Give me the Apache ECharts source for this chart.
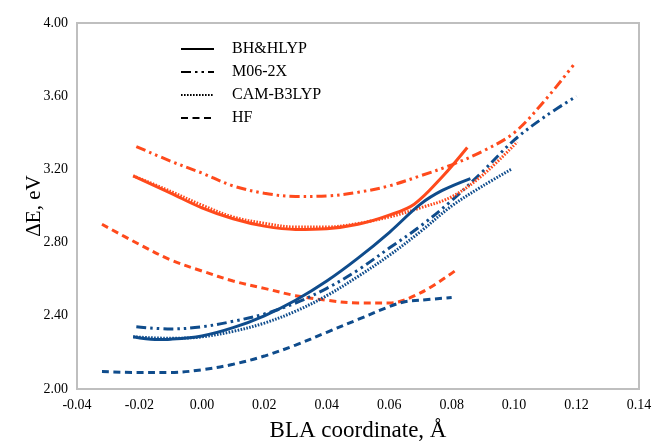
<!DOCTYPE html>
<html>
<head>
<meta charset="utf-8">
<script src="https://cdn.jsdelivr.net/npm/echarts@6/dist/echarts.min.js"></script>
<style>
  html, body { margin: 0; padding: 0; background: #ffffff; }
  #chart { width: 655px; height: 444px; }
</style>
</head>
<body>
<div id="chart"></div>
<script>
// Excitation energy vs. bond-length-alternation coordinate, four functionals, two systems.
const methods = ['BH&HLYP', 'M06-2X', 'CAM-B3LYP', 'HF'];

// Orange system
const orangeBhX  = [-0.022, -0.01, 0.0, 0.01, 0.02, 0.03, 0.04, 0.05, 0.06, 0.068, 0.077, 0.085];
const orangeBhY  = [3.165, 3.07, 2.99, 2.93, 2.89, 2.872, 2.876, 2.90, 2.95, 3.01, 3.16, 3.32];
const orangeM06X = [-0.021, -0.01, 0.0, 0.01, 0.02, 0.03, 0.04, 0.05, 0.06, 0.07, 0.08, 0.09, 0.10, 0.11, 0.119];
const orangeM06Y = [3.325, 3.245, 3.18, 3.11, 3.07, 3.052, 3.055, 3.075, 3.11, 3.165, 3.225, 3.30, 3.40, 3.58, 3.77];
const orangeCamX = [-0.022, -0.01, 0.0, 0.01, 0.02, 0.03, 0.04, 0.05, 0.06, 0.07, 0.08, 0.09, 0.101];
const orangeCamY = [3.165, 3.08, 3.005, 2.94, 2.905, 2.885, 2.885, 2.905, 2.94, 2.99, 3.05, 3.17, 3.35];
const orangeHfX  = [-0.032, -0.02, -0.01, 0.0, 0.01, 0.02, 0.03, 0.04, 0.05, 0.06, 0.07, 0.081];
const orangeHfY  = [2.90, 2.79, 2.705, 2.645, 2.59, 2.55, 2.51, 2.485, 2.47, 2.47, 2.525, 2.645];

// Blue system
const blueBhX  = [-0.022, -0.015, -0.01, 0.0, 0.01, 0.02, 0.03, 0.04, 0.05, 0.06, 0.07, 0.077, 0.086];
const blueBhY  = [2.285, 2.27, 2.272, 2.29, 2.335, 2.40, 2.485, 2.59, 2.715, 2.855, 3.01, 3.085, 3.15];
const blueM06X = [-0.021, -0.01, 0.0, 0.01, 0.02, 0.03, 0.04, 0.05, 0.06, 0.07, 0.08, 0.09, 0.10, 0.11, 0.12];
const blueM06Y = [2.34, 2.328, 2.34, 2.37, 2.41, 2.47, 2.55, 2.65, 2.77, 2.89, 3.03, 3.19, 3.36, 3.49, 3.60];
const blueCamX = [-0.022, -0.01, 0.0, 0.01, 0.02, 0.03, 0.04, 0.05, 0.06, 0.07, 0.08, 0.09, 0.099];
const blueCamY = [2.285, 2.277, 2.285, 2.315, 2.36, 2.425, 2.51, 2.615, 2.73, 2.86, 3.00, 3.11, 3.20];
const blueHfX  = [-0.032, -0.02, -0.01, 0.0, 0.01, 0.02, 0.03, 0.04, 0.05, 0.06, 0.065, 0.07, 0.08];
const blueHfY  = [2.095, 2.09, 2.09, 2.105, 2.135, 2.18, 2.24, 2.31, 2.38, 2.45, 2.477, 2.485, 2.50];

const ORANGE = '#ff4a1c';
const BLUE = '#0f4c8c';
const FONT = 'Liberation Serif';

// Dash pattern per functional
const dashes = {
  'BH&HLYP': 'solid',
  'M06-2X': [10, 4, 2.5, 4, 2.5, 4],
  'CAM-B3LYP': [1.6, 1.4],
  'HF': [7, 4.5]
};

function zip(xs, ys) {
  return xs.map((x, i) => [x, ys[i]]);
}

function curve(id, method, xs, ys, color) {
  return {
    name: id,
    type: 'line',
    data: zip(xs, ys),
    smooth: 0.35,
    showSymbol: false,
    symbol: 'none',
    silent: true,
    lineStyle: { color: color, width: 3, type: dashes[method], cap: 'butt' }
  };
}

// Black key entries for the legend (no data of their own)
const keySeries = methods.map(m => ({
  name: m,
  type: 'line',
  data: [],
  symbol: 'none',
  itemStyle: { color: '#000' },
  lineStyle: { color: '#000', width: 3, type: dashes[m], cap: 'butt' }
}));

const series = [
  curve('orange-HF', 'HF', orangeHfX, orangeHfY, ORANGE),
  curve('blue-HF', 'HF', blueHfX, blueHfY, BLUE),
  curve('orange-M06', 'M06-2X', orangeM06X, orangeM06Y, ORANGE),
  curve('blue-M06', 'M06-2X', blueM06X, blueM06Y, BLUE),
  curve('orange-CAM', 'CAM-B3LYP', orangeCamX, orangeCamY, ORANGE),
  curve('blue-CAM', 'CAM-B3LYP', blueCamX, blueCamY, BLUE),
  curve('blue-BH', 'BH&HLYP', blueBhX, blueBhY, BLUE),
  curve('orange-BH', 'BH&HLYP', orangeBhX, orangeBhY, ORANGE)
].concat(keySeries);

const chart = echarts.init(document.getElementById('chart'), null, { renderer: 'canvas' });
chart.setOption({
  animation: false,
  backgroundColor: '#ffffff',
  grid: {
    left: 77, right: 16, top: 23, bottom: 55,
    outerBoundsMode: 'none',
    show: true, borderColor: '#bfbfbf', borderWidth: 2, backgroundColor: 'transparent'
  },
  legend: {
    data: methods,
    orient: 'vertical',
    left: 175, top: 36,
    itemWidth: 33, itemHeight: 14, itemGap: 7,
    itemStyle: { opacity: 0 },
    textStyle: { fontFamily: FONT, fontSize: 16, color: '#000', padding: [0, 0, 0, 13] },
    selectedMode: false
  },
  xAxis: {
    type: 'value',
    min: -0.04, max: 0.14, interval: 0.02,
    name: 'BLA coordinate, Å',
    nameLocation: 'middle', nameGap: 30, nameMoveOverlap: false,
    nameTextStyle: { fontFamily: FONT, fontSize: 23, color: '#000' },
    axisLine: { show: false },
    axisTick: { show: false },
    splitLine: { show: false },
    axisLabel: {
      fontFamily: FONT, fontSize: 14, color: '#000', margin: 9,
      formatter: v => v.toFixed(2)
    }
  },
  yAxis: {
    type: 'value',
    min: 2.0, max: 4.0, interval: 0.4,
    name: 'ΔE, eV',
    nameLocation: 'middle', nameGap: 32, nameMoveOverlap: false,
    nameTextStyle: { fontFamily: FONT, fontSize: 21, color: '#000' },
    axisLine: { show: false },
    axisTick: { show: false },
    splitLine: { show: false },
    axisLabel: {
      fontFamily: FONT, fontSize: 14, color: '#000', margin: 9,
      formatter: v => v.toFixed(2)
    }
  },
  series: series
});
</script>
</body>
</html>
